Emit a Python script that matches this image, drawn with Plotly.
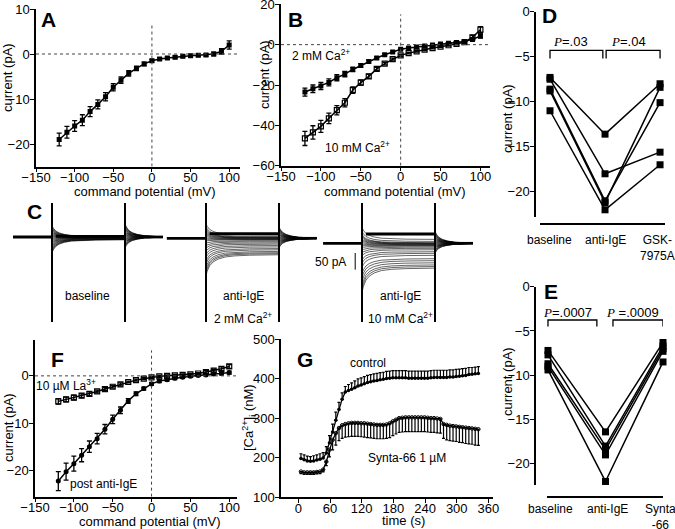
import plotly.graph_objects as go

# -------------------------------
# Dados
# -------------------------------
mv = [-120, -110, -100, -90, -80, -70, -60, -50, -40, -30, -20, -10,
      0, 10, 20, 30, 40, 50, 60, 70, 80, 90, 100]

# A - post anti-IgE I-V
a_mean = [-19.0, -17.4, -16.0, -14.7, -12.8, -11.2, -9.5, -7.4, -5.8, -4.3, -3.2, -2.2,
          -1.5, -1.1, -0.9, -0.7, -0.5, -0.4, -0.3, -0.2, 0.0, 0.6, 2.0]
a_err = [1.4, 1.3, 1.2, 1.2, 1.1, 1.0, 0.9, 0.8, 0.7, 0.6, 0.5, 0.4,
         0.3, 0.3, 0.3, 0.3, 0.3, 0.3, 0.3, 0.3, 0.4, 0.6, 0.9]

# B - 2 mM vs 10 mM Ca2+
b2_mean = [-23.5, -21.9, -20.5, -18.7, -16.4, -14.6, -12.3, -10.3, -8.3, -6.6, -5.0, -3.6,
           -2.3, -1.7, -1.2, -0.7, -0.2, 0.3, 0.7, 1.1, 1.6, 2.6, 4.3]
b2_err = [2.0, 1.9, 1.8, 1.7, 1.5, 1.3, 1.1, 0.9, 0.8, 0.6, 0.5, 0.5,
          0.4, 0.4, 0.4, 0.4, 0.4, 0.4, 0.4, 0.4, 0.5, 0.7, 1.0]
b10_mean = [-46.5, -43.5, -40.5, -36.5, -32.5, -28.8, -22.5, -18.8, -15.7, -12.0, -9.4, -7.2,
            -5.3, -4.2, -3.3, -2.5, -1.7, -1.0, -0.3, 0.4, 1.2, 3.6, 7.4]
b10_err = [3.5, 3.3, 3.0, 2.6, 2.3, 2.0, 1.6, 1.3, 1.0, 0.8, 0.6, 0.5,
           0.5, 0.4, 0.4, 0.4, 0.4, 0.4, 0.4, 0.5, 0.6, 1.0, 1.5]

# C - protocolo das correntes (ms) e parametros das varreduras
c_start_ms = [0, 316, 637]
c_pre_ms = 80
c_step_ms = 150
c_post_ms = 78
c_holding_pa = [0, -4, -19]
c_band_pa = [2, 14, 28]            # borda superior (ruido) durante o pulso
c_steady_src = [b2_mean, b2_mean, b10_mean]
c_gain = [0.35, 2.1, 1.6]          # pA por unidade do I-V
c_inact = [0.0, 0.6, 0.49]
c_cap_pa_per_mv = [0.33, 0.3, 0.3]
c_decay_ms = [0, 3, 8, 15, 25, 40, 60, 90, 150]
c_decay_frac = [1.0, 0.75, 0.5, 0.33, 0.2, 0.1, 0.05, 0.02, 0.0]
c_bar_pa = 50

# D - GSK-7975A
d_categories = ["baseline", "anti-IgE", "GSK-<br>7975A"]
d_baseline = [-7.3, -7.5, -8.6, -8.8, -11.0]
d_anti = [-13.6, -18.0, -21.0, -21.2, -22.0]
d_gsk = [-8.0, -15.6, -10.1, -8.4, -17.0]

# E - Synta-66
e_categories = ["baseline", "anti-IgE", "Synta<br>-66"]
e_baseline = [-7.2, -7.7, -8.7, -9.0, -9.4]
e_anti = [-16.4, -18.0, -18.4, -19.0, -22.0]
e_synta = [-6.3, -6.7, -7.0, -7.3, -8.5]

# F - La3+
f_la_mean = [-5.4, -5.0, -4.6, -4.2, -3.8, -3.3, -2.8, -2.3, -1.8, -1.3, -0.9, -0.6,
             -0.3, -0.1, 0.0, 0.1, 0.2, 0.3, 0.5, 0.8, 1.1, 1.5, 2.0]
f_la_err = [0.6, 0.5, 0.5, 0.4, 0.4, 0.3, 0.3, 0.3, 0.3, 0.2, 0.2, 0.2,
            0.2, 0.2, 0.2, 0.2, 0.2, 0.2, 0.2, 0.3, 0.3, 0.4, 0.4]
f_post_mean = [-22.3, -20.3, -18.6, -16.8, -15.0, -13.3, -11.3, -9.2, -7.3, -5.3, -3.8, -2.7,
               -1.7, -1.1, -0.8, -0.5, -0.3, -0.1, 0.1, 0.2, 0.4, 0.5, 0.7]
f_post_err = [2.0, 1.8, 1.6, 1.4, 1.2, 1.1, 1.0, 0.9, 0.7, 0.5, 0.4, 0.3,
              0.3, 0.3, 0.3, 0.3, 0.2, 0.2, 0.2, 0.2, 0.3, 0.3, 0.3]

# G - [Ca2+]i
g_time = [5, 11, 17, 23, 29, 35, 41, 47, 53, 59, 65, 71, 77, 83, 89, 95, 101, 107, 113, 119,
          125, 131, 137, 143, 149, 155, 161, 167, 173, 179, 185, 191, 197, 203, 209, 215, 221,
          227, 233, 239, 245, 251, 257, 263, 269, 275, 281, 287, 293, 299, 305, 311, 317, 323,
          329, 335, 341]
g_ctrl = [198, 195, 192, 191, 192, 194, 196, 199, 212, 238, 265, 295, 322, 348, 366, 370, 373,
          377, 381, 384, 387, 390, 392, 394, 395, 397, 398, 400, 401, 402, 402, 402, 402, 402,
          401, 401, 401, 401, 401, 401, 401, 402, 403, 403, 403, 403, 403, 404, 404, 405, 406,
          407, 408, 410, 411, 412, 413]
g_ctrl_err = [12, 12, 12, 12, 13, 13, 14, 14, 16, 18, 20, 20, 18, 16, 14, 15, 16, 17, 18, 18,
              18, 18, 18, 18, 18, 18, 18, 18, 18, 18, 18, 18, 18, 18, 18, 18, 18, 18, 18, 18,
              18, 18, 18, 18, 18, 18, 18, 18, 18, 18, 18, 18, 18, 18, 17, 17, 17]
g_syn = [165, 163, 163, 163, 163, 164, 165, 170, 190, 220, 245, 262, 275, 282, 285, 287, 288,
         288, 288, 287, 287, 286, 285, 284, 283, 283, 283, 284, 287, 292, 296, 300, 301, 302,
         302, 302, 302, 302, 302, 302, 301, 300, 300, 299, 298, 285, 283, 281, 280, 279, 278,
         277, 276, 275, 274, 273, 272]
g_syn_err = [5, 5, 5, 5, 5, 5, 5, 6, 10, 18, 25, 30, 32, 33, 33, 34, 34, 34, 34, 34, 35, 35,
             35, 35, 35, 35, 35, 35, 36, 36, 36, 36, 36, 36, 36, 36, 36, 36, 36, 36, 36, 36,
             36, 36, 36, 36, 38, 38, 38, 38, 39, 39, 40, 40, 40, 41, 41]

# -------------------------------
# Estilo
# -------------------------------
W, H = 675, 529
FONT = "Liberation Sans, Arial, Helvetica, sans-serif"


def px(x):
    return x / W


def py(y):
    return 1 - y / H


def ebar(err):
    return dict(type="data", array=err, color="black", thickness=1.3, width=2.5)


fig = go.Figure()

line_k = dict(color="black", width=1.5)

# A
fig.add_trace(go.Scatter(x=mv, y=a_mean, mode="lines+markers", xaxis="x", yaxis="y",
                         line=line_k, marker=dict(symbol="square", size=5, color="black"),
                         error_y=ebar(a_err)))

# B
fig.add_trace(go.Scatter(x=mv, y=b2_mean, mode="lines+markers", xaxis="x2", yaxis="y2",
                         line=line_k, marker=dict(symbol="square", size=5, color="black"),
                         error_y=ebar(b2_err)))
fig.add_trace(go.Scatter(x=mv, y=b10_mean, mode="lines+markers", xaxis="x2", yaxis="y2",
                         line=line_k,
                         marker=dict(symbol="square-open", size=5, color="black", line=dict(width=1.2)),
                         error_y=ebar(b10_err)))

# C - familias de correntes
big = 2000
for k in range(3):
    t0 = c_start_ms[k]
    hold = c_holding_pa[k]
    t_on = t0 + c_pre_ms
    t_off = t_on + c_step_ms
    xs, ys = [], []
    for i, v in enumerate(mv):
        steady = c_steady_src[k][i] * c_gain[k]
        extra = steady * c_inact[k] + c_cap_pa_per_mv[k] * v
        xs += [t_on, t_on, t_on]
        ys += [hold, big, -big]
        for d, f in zip(c_decay_ms, c_decay_frac):
            xs.append(t_on + d)
            ys.append(hold + steady + extra * f)
        xs += [t_off, t_off, t_off]
        ys += [hold + steady, big, -big]
        for d, f in zip(c_decay_ms, c_decay_frac):
            if d <= c_post_ms:
                xs.append(t_off + d)
                ys.append(hold - c_cap_pa_per_mv[k] * v * f)
        xs += [t_off + c_post_ms, None]
        ys += [hold, None]
    fig.add_trace(go.Scatter(x=xs, y=ys, mode="lines", xaxis="x3", yaxis="y3",
                             line=dict(color="black", width=0.6)))
    band = hold + c_band_pa[k]
    fig.add_trace(go.Scatter(x=[t0, t_on, None, t_on + 8, t_off, None, t_off + 45, t_off + c_post_ms],
                             y=[hold, hold, None, band, band, None, hold, hold], mode="lines",
                             xaxis="x3", yaxis="y3", line=dict(color="black", width=2.8)))

# D
for i in range(len(d_baseline)):
    fig.add_trace(go.Scatter(x=[0, 1, 2], y=[d_baseline[i], d_anti[i], d_gsk[i]],
                             mode="lines+markers", xaxis="x4", yaxis="y4", cliponaxis=False,
                             line=line_k, marker=dict(symbol="square", size=7, color="black")))

# E
for i in range(len(e_baseline)):
    fig.add_trace(go.Scatter(x=[0, 1, 2], y=[e_baseline[i], e_anti[i], e_synta[i]],
                             mode="lines+markers", xaxis="x5", yaxis="y5", cliponaxis=False,
                             line=line_k, marker=dict(symbol="square", size=7, color="black")))

# F
fig.add_trace(go.Scatter(x=mv, y=f_la_mean, mode="lines+markers", xaxis="x6", yaxis="y6",
                         line=line_k,
                         marker=dict(symbol="square-open", size=5, color="black", line=dict(width=1.2)),
                         error_y=ebar(f_la_err)))
fig.add_trace(go.Scatter(x=mv, y=f_post_mean, mode="lines+markers", xaxis="x6", yaxis="y6",
                         line=line_k, marker=dict(symbol="circle", size=5, color="black"),
                         error_y=ebar(f_post_err)))

# G
zeros = [0] * len(g_time)
fig.add_trace(go.Scatter(x=g_time, y=g_ctrl, mode="lines+markers", xaxis="x7", yaxis="y7",
                         line=dict(color="black", width=1.3),
                         marker=dict(symbol="circle", size=3.5, color="black"),
                         error_y=dict(type="data", symmetric=False, array=g_ctrl_err,
                                      arrayminus=zeros, color="black", thickness=1.2, width=1.5)))
fig.add_trace(go.Scatter(x=g_time, y=g_syn, mode="lines+markers", xaxis="x7", yaxis="y7",
                         line=dict(color="black", width=1.3),
                         marker=dict(symbol="circle-open", size=3.5, color="black"),
                         error_y=dict(type="data", symmetric=False, array=zeros,
                                      arrayminus=g_syn_err, color="black", thickness=1.2, width=1.5)))

# -------------------------------
# Eixos
# -------------------------------
base_ax = dict(showline=True, linecolor="black", linewidth=1.5, ticks="outside", ticklen=4,
               tickwidth=1.3, tickcolor="black", showgrid=False, zeroline=False, automargin=False,
               ticklabeloverflow="allow",
               tickfont=dict(family=FONT, size=13, color="black"), fixedrange=True)
bx = dict(base_ax, ticklabelstandoff=-6)
by = dict(base_ax, ticklabelstandoff=-2)
mv_ticks = [-150, -100, -50, 0, 50, 100]

layout_axes = dict(
    xaxis=dict(bx, domain=[px(36), px(240)], range=[-150, 114], tickvals=mv_ticks, anchor="y"),
    yaxis=dict(by, domain=[py(166.5), py(9)], range=[-25, 10], tickvals=[-20, -10, 0, 10], anchor="x"),
    xaxis2=dict(bx, domain=[px(281), px(490)], range=[-150, 112], tickvals=mv_ticks, anchor="y2"),
    yaxis2=dict(by, domain=[py(165.7), py(4.3)], range=[-60, 20], tickvals=[-60, -40, -20, 0, 20], anchor="x2"),
    xaxis3=dict(domain=[0, 1], range=[-26.7, 1360], visible=False, anchor="y3", fixedrange=True,
                automargin=False),
    yaxis3=dict(domain=[py(322), py(203)], range=[-255, 102], visible=False, anchor="x3", fixedrange=True,
                automargin=False),
    xaxis4=dict(bx, domain=[px(540), px(665)], range=[-0.182, 2.09], showticklabels=False,
                ticks="", anchor="free", position=py(224)),
    yaxis4=dict(by, domain=[py(217), py(11.7)], range=[-22.8, 0], tickvals=[0, -5, -10, -15, -20],
                anchor="free", position=px(535)),
    xaxis5=dict(bx, domain=[px(547), px(663)], range=[-0.017, 2.0], showticklabels=False,
                ticks="", anchor="free", position=py(496.7)),
    yaxis5=dict(by, domain=[py(485), py(286.7)], range=[-22.4, 0], tickvals=[0, -5, -10, -15, -20],
                anchor="free", position=px(535)),
    xaxis6=dict(bx, domain=[px(35), px(237)], range=[-150, 110], tickvals=mv_ticks, anchor="y6"),
    yaxis6=dict(by, domain=[py(496.7), py(340)], range=[-25.6, 7.6], tickvals=[-20, -10, 0], anchor="x6"),
    xaxis7=dict(bx, domain=[px(281), px(493)], range=[-32.8, 368.7],
                tickvals=[0, 60, 120, 180, 240, 300, 360], anchor="y7"),
    yaxis7=dict(by, domain=[py(497.3), py(339)], range=[100, 500],
                tickvals=[100, 200, 300, 400, 500], anchor="x7"),
)

# -------------------------------
# Linhas pontilhadas, colchetes, barra de escala
# -------------------------------
dot = dict(color="#444", width=1, dash="dot")
shapes = [
    dict(type="line", xref="x", yref="y", x0=-150, x1=114, y0=0, y1=0, line=dot),
    dict(type="line", xref="x", yref="y", x0=0, x1=0, y0=-25, y1=7, line=dot),
    dict(type="line", xref="x2", yref="y2", x0=-150, x1=112, y0=0, y1=0, line=dot),
    dict(type="line", xref="x2", yref="y2", x0=0, x1=0, y0=-60, y1=15, line=dot),
    dict(type="line", xref="x6", yref="y6", x0=-150, x1=110, y0=0, y1=0, line=dot),
    dict(type="line", xref="x6", yref="y6", x0=0, x1=0, y0=-25.6, y1=5.4, line=dot),
    dict(type="path", xref="x4", yref="y4", path="M 0,-5.2 L 0,-4.3 L 0.96,-4.3 L 0.96,-5.2",
         line=dict(color="black", width=1.3)),
    dict(type="path", xref="x4", yref="y4", path="M 1.02,-5.2 L 1.02,-4.3 L 2,-4.3 L 2,-5.2",
         line=dict(color="black", width=1.3)),
    dict(type="path", xref="x5", yref="y5", path="M 0,-4.5 L 0,-3.76 L 0.85,-3.76 L 0.85,-4.5",
         line=dict(color="black", width=1.3)),
    dict(type="path", xref="x5", yref="y5", path="M 1.13,-4.5 L 1.13,-3.76 L 2,-3.76 L 2,-4.5",
         line=dict(color="black", width=1.3)),
    dict(type="line", xref="x3", yref="y3", x0=703, x1=703, y0=-48, y1=-48 - c_bar_pa,
         line=dict(color="black", width=1)),
]


def ann(text, x, y, size=12, angle=0, bold=False):
    if bold:
        text = "<b>" + text + "</b>"
    return dict(text=text, x=px(x), y=py(y), xref="paper", yref="paper", showarrow=False,
                textangle=angle, font=dict(family=FONT, size=size, color="black"),
                xanchor="center", yanchor="middle")


P = '<span style="font-family:Liberation Serif"><i>P</i></span>'
ylab = "current (pA)"
xlab = "command potential (mV)"
annotations = [
    ann("A", 48, 19.5, 21, bold=True), ann("B", 295, 19.5, 21, bold=True),
    ann("C", 34, 211, 21, bold=True), ann("D", 549, 15, 21, bold=True),
    ann("E", 551, 291, 21, bold=True), ann("F", 58, 359, 21, bold=True),
    ann("G", 305, 359, 21, bold=True),
    ann(ylab, 8, 78, 13, -90), ann(xlab, 145, 191, 13),
    ann(ylab, 264, 75, 13, -90), ann(xlab, 395, 191, 13),
    ann(ylab, 507, 118, 13, -90),
    ann(ylab, 507, 381, 13, -90),
    ann(ylab, 8, 428, 13, -90), ann(xlab, 150, 521, 13),
    ann("[Ca<sup>2+</sup>]<sub>i</sub> (nM)", 249, 418, 13, -90), ann("time (s)", 403, 520.5, 13),
    ann("2 mM Ca<sup>2+</sup>", 321, 55, 12),
    ann("10 mM Ca<sup>2+</sup>", 357, 147, 12),
    ann("10 µM La<sup>3+</sup>", 66, 385, 12),
    ann("post anti-IgE", 103, 484, 12),
    ann("control", 368, 363, 12),
    ann("Synta-66 1 µM", 407, 458, 12),
    ann(P + "=.03", 570, 42, 13), ann(P + "=.04", 628, 42, 13),
    ann(P + "=.0007", 567, 312, 13), ann(P + " =.0009", 632, 312, 13),
    ann("50 pA", 330, 262, 12),
    ann("baseline", 88, 296, 12),
    ann("anti-IgE", 243, 296, 12), ann("2 mM Ca<sup>2+</sup>", 243, 318, 12),
    ann("anti-IgE", 400, 296, 12), ann("10 mM Ca<sup>2+</sup>", 400, 318, 12),
]

# rotulos de categoria de D e E
d_label_x = [549, 605, 657]
e_label_x = [550, 607, 660]
for lab, xx in zip(d_categories, d_label_x):
    annotations.append(dict(ann(lab, xx, 238, 12), yanchor="top", y=py(231)))
for lab, xx in zip(e_categories, e_label_x):
    annotations.append(dict(ann(lab, xx, 508, 12), yanchor="top", y=py(500)))

fig.update_layout(
    width=W, height=H,
    margin=dict(l=0, r=0, t=0, b=0, autoexpand=False),
    paper_bgcolor="white", plot_bgcolor="white",
    showlegend=False,
    font=dict(family=FONT, size=13, color="black"),
    shapes=shapes,
    annotations=annotations,
    **layout_axes,
)

# a pagina tem margem padrao de 8px no body; remover para alinhar com a janela
fig.write_html("out.html", config={"displayModeBar": False},
               post_script="document.body.style.margin='0px';")
